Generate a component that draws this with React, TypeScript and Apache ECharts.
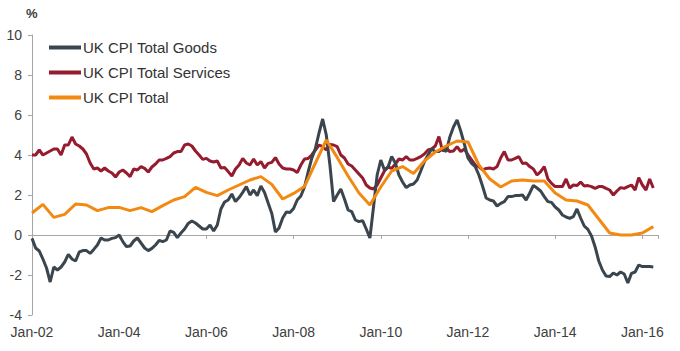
import React, { useEffect, useRef } from "react";
import * as echarts from "echarts";

// Monthly, starting Jan 2002 (index 0) through Apr 2016
const goods: number[] = [
  -0.17, -0.65, -0.8, -1.2, -1.65, -2.35, -1.6, -1.75, -1.6, -1.35, -0.97, -1.2,
  -1.3, -0.85, -0.78, -0.78, -0.92, -0.72, -0.5, -0.15, -0.25, -0.25, -0.17, -0.13,
  0.0, -0.33, -0.58, -0.55, -0.3, -0.15, -0.4, -0.65, -0.78, -0.67, -0.5, -0.27,
  -0.33, -0.25, 0.2, 0.13, -0.13, 0.1, 0.3, 0.58, 0.7, 0.6, 0.45, 0.3,
  0.3, 0.5, 0.2, 0.5, 1.3, 1.65, 1.75, 2.05, 1.67, 1.87, 2.13, 2.42,
  2.0, 2.25, 1.97, 2.45, 2.13, 1.6, 1.08, 0.15, 0.35, 0.85, 1.15, 1.13,
  1.33, 1.75, 1.95, 2.4, 3.15, 3.83, 4.33, 5.1, 5.8, 5.0, 3.5, 1.67,
  2.0, 2.3, 1.8, 1.25, 1.17, 0.75, 0.67, 0.72, 0.3, -0.15, 1.4, 3.0,
  3.75, 3.25, 3.4, 3.92, 3.6, 3.0, 2.65, 2.37, 2.5, 2.55, 2.75, 3.2,
  3.67, 4.0, 4.3, 4.17, 4.17, 4.33, 4.17, 4.9, 5.4, 5.75, 5.2, 4.55,
  3.85, 3.58, 3.42, 3.0, 2.45, 1.85, 1.75, 1.7, 1.45, 1.58, 1.67, 1.92,
  1.92, 1.97, 1.97, 2.0, 1.75, 2.1, 2.48, 2.35, 2.2, 1.92, 1.67, 1.63,
  1.4, 1.25, 1.0, 0.9, 0.83, 0.92, 1.3, 0.85, 0.45, 0.28, -0.05, -0.6,
  -1.3, -1.75, -2.05, -2.08, -1.9, -2.0, -1.85, -1.95, -2.4, -1.92, -1.85, -1.5,
  -1.58, -1.58, -1.58, -1.6,
];

const services: number[] = [
  4.0, 4.0, 4.25, 4.0, 4.1, 4.2, 4.3, 4.3, 4.0, 4.5, 4.5, 4.9,
  4.55, 4.45, 4.3, 4.05, 3.6, 3.3, 3.35, 3.2, 3.35, 3.2, 3.1, 2.9,
  3.15, 3.25, 3.1, 2.92, 3.3, 3.25, 3.42, 3.33, 3.15, 3.4, 3.55, 3.75,
  3.75, 3.83, 3.92, 4.1, 4.17, 4.17, 4.5, 4.55, 4.45, 4.2, 4.0, 3.78,
  3.83, 3.7, 3.65, 3.7, 3.35, 3.37, 3.17, 2.95, 3.3, 3.5, 3.83, 3.6,
  3.5, 3.8, 3.5, 3.67, 3.35, 3.58, 3.63, 3.87, 3.55, 3.35, 3.3, 3.3,
  3.25, 3.12, 3.5, 3.8, 3.83, 4.0, 4.25, 4.5, 4.42, 4.25, 4.53, 4.5,
  4.42, 4.0, 3.85, 3.55, 3.45, 3.25, 3.05, 2.85, 2.5, 2.35, 2.3, 2.5,
  2.85, 3.2, 3.4, 3.33, 3.55, 3.8, 3.75, 3.92, 3.75, 3.75, 3.83, 3.92,
  4.05, 4.25, 4.3, 4.45, 4.92, 4.2, 4.35, 4.17, 4.2, 4.42, 4.17, 4.3,
  4.0, 3.75, 3.5, 3.42, 3.25, 3.33, 3.35, 3.3, 3.42, 3.85, 4.17, 3.75,
  3.75, 3.83, 3.92, 3.58, 3.6, 3.42, 3.3, 3.0, 3.17, 3.42, 2.8, 2.58,
  2.42, 2.42, 2.42, 2.8, 2.35, 2.5, 2.47, 2.65, 2.45, 2.47, 2.42, 2.33,
  2.42, 2.42, 2.33, 2.25, 2.0, 2.2, 2.37, 2.33, 2.42, 2.5, 2.25, 2.87,
  2.5, 2.25, 2.8, 2.35,
];

// Quarterly, every 3 months starting Jan 2002
const total: number[] = [
  1.1, 1.53, 0.88, 1.03, 1.55, 1.5, 1.22, 1.37, 1.38, 1.22, 1.37, 1.17,
  1.47, 1.75, 1.92, 2.38, 2.13, 1.97, 2.25, 2.5, 2.75, 2.92, 2.53, 1.8,
  2.08, 2.42, 3.6, 4.75, 3.88, 2.95, 2.1, 1.5, 2.4, 3.2, 3.42, 3.08,
  3.7, 4.15, 4.45, 4.7, 4.65, 3.5, 2.8, 2.4, 2.7, 2.75, 2.7, 2.7,
  2.1, 1.75, 1.7, 1.5, 0.8, 0.1, 0.0, 0.0, 0.1, 0.42,
];

const seriesNames = ["UK CPI Total Goods", "UK CPI Total Services", "UK CPI Total"];
const yTicks = [-4, -2, 0, 2, 4, 6, 8, 10];
const xLabelYears = ["02", "04", "06", "08", "10", "12", "14", "16"];

export default function App() {
  const ref = useRef<HTMLDivElement>(null);
  useEffect(() => {
    if (!ref.current) return;
    const chart = echarts.init(ref.current, null, { renderer: "svg" });
    const font = "'Liberation Sans', Arial, sans-serif";
    const axisCommon = {
      type: "value" as const,
      min: 0,
      max: 172.3,
      interval: 24,
    };
    chart.setOption({
      animation: false,
      grid: { left: 32, right: 22, top: 35, bottom: 36, containLabel: false },
      legend: {
        orient: "vertical",
        left: 49,
        top: 40,
        padding: 0,
        itemWidth: 32,
        itemHeight: 4,
        itemGap: 10,
        icon: "rect",
        data: seriesNames,
        textStyle: { fontFamily: font, fontSize: 15, color: "#333333", padding: [0, 0, 0, -3] },
      },
      graphic: [
        {
          type: "text",
          left: 26,
          top: 7,
          style: { text: "%", font: `bold 13px ${font}`, fill: "#404040" },
        },
      ],
      xAxis: [
        {
          ...axisCommon,
          position: "bottom",
          axisLine: { show: true, onZero: true, lineStyle: { color: "#a6a6a6", width: 1 } },
          axisTick: { show: true, length: 4, lineStyle: { color: "#a6a6a6" } },
          axisLabel: { show: false },
          splitLine: { show: false },
        },
        {
          ...axisCommon,
          position: "bottom",
          axisLine: { show: false, onZero: false },
          axisTick: { show: false },
          axisLabel: {
            show: true,
            margin: 10,
            fontFamily: font,
            fontSize: 14,
            color: "#404040",
            formatter: (v: number) => {
              const idx = Math.round(v / 24);
              return idx >= 0 && idx < xLabelYears.length ? "Jan-" + xLabelYears[idx] : "";
            },
          },
          splitLine: { show: false },
        },
      ],
      yAxis: {
        type: "value",
        min: yTicks[0],
        max: yTicks[yTicks.length - 1],
        interval: 2,
        axisLine: { show: true, lineStyle: { color: "#a6a6a6" } },
        axisTick: { show: true, length: 4, lineStyle: { color: "#a6a6a6" } },
        axisLabel: { fontFamily: font, fontSize: 14, color: "#404040", margin: 10 },
        splitLine: { show: false },
      },
      series: [
        {
          name: seriesNames[1],
          type: "line",
          xAxisIndex: 0,
          showSymbol: false,
          symbol: "none",
          data: services.map((v, i) => [i, v]),
          lineStyle: { color: "#951b2e", width: 3 },
          itemStyle: { color: "#951b2e" },
          z: 2,
        },
        {
          name: seriesNames[0],
          type: "line",
          xAxisIndex: 0,
          showSymbol: false,
          symbol: "none",
          data: goods.map((v, i) => [i, v]),
          lineStyle: { color: "#3b454d", width: 3 },
          itemStyle: { color: "#3b454d" },
          z: 3,
        },
        {
          name: seriesNames[2],
          type: "line",
          xAxisIndex: 0,
          showSymbol: false,
          symbol: "none",
          data: total.map((v, i) => [i * 3, v]),
          lineStyle: { color: "#f28a12", width: 3 },
          itemStyle: { color: "#f28a12" },
          z: 4,
        },
      ],
    });
    return () => chart.dispose();
  }, []);
  return <div ref={ref} style={{ width: 680, height: 351, position: "absolute", left: 0, top: 0 }} />;
}
